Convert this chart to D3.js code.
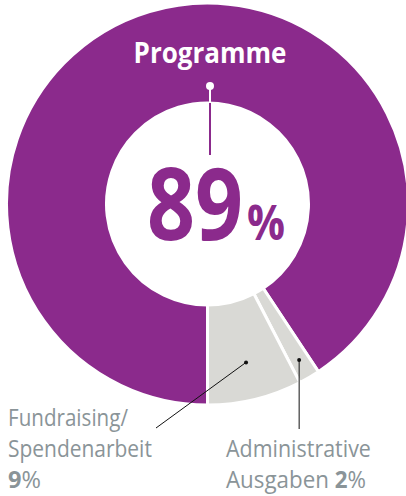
<!DOCTYPE html>
<meta charset='utf-8'>
<script src='https://d3js.org/d3.v7.min.js'></script>
<style>
  body { margin: 0; background: #fff; }
  text { font-family: 'Open Sans', 'Noto Sans', sans-serif; }
</style>
<body>
<script>
var width = 406,
    height = 496;

// slices in draw order (clockwise from 6 o'clock)
var categories = ['Programme', 'Administrative Ausgaben', 'Fundraising/Spendenarbeit'];
var labelPct = [89, 2, 9];
// share of the ring as drawn in the picture (not to scale with labels)
var arcShare = [90.7, 1.7, 7.6];
var colors = ['#8b2a8c', '#d9d9d5', '#d9d9d5'];

var cx = 207.5, cy = 204, outerR = 201, innerR = 101;

var svg = d3.select('body').append('svg').attr('width', width).attr('height', height);

var pie = d3.pie().sort(null).value(function(d) { return d; })
    .startAngle(Math.PI).endAngle(3 * Math.PI);
var arc = d3.arc().innerRadius(innerR).outerRadius(outerR);
var arcs = pie(arcShare);

var g = svg.append('g').attr('transform', 'translate(' + cx + ',' + cy + ')');

g.selectAll('path.slice').data(arcs).enter().append('path')
    .attr('class', 'slice')
    .attr('d', arc)
    .attr('fill', function(d, i) { return colors[i]; })
    .attr('stroke', '#fff')
    .attr('stroke-width', 3)
    .attr('stroke-linejoin', 'miter');

// squeeze a text node horizontally to a given width
function fit(sel, x, y, w, anchor) {
  var len = sel.node().getComputedTextLength();
  var k = w / len;
  sel.attr('x', 0).attr('y', 0)
    .attr('transform', 'translate(' + x + ',' + y + ') scale(' + k + ',1)')
    .attr('text-anchor', anchor || 'start');
  return sel;
}

// Programme label + pointer
fit(svg.append('text').text(categories[0])
    .attr('fill', '#fff').attr('font-weight', 700).attr('font-size', 28), 210, 63, 153, 'middle');

svg.append('line').attr('x1', 210).attr('x2', 210).attr('y1', 86).attr('y2', cy - innerR)
    .attr('stroke', '#fff').attr('stroke-width', 2);
svg.append('line').attr('x1', 210).attr('x2', 210).attr('y1', cy - innerR).attr('y2', 155)
    .attr('stroke', colors[0]).attr('stroke-width', 2);
svg.append('circle').attr('cx', 210).attr('cy', 86).attr('r', 4).attr('fill', '#fff');

// big percentage
fit(svg.append('text').text(labelPct[0])
    .attr('fill', colors[0]).attr('font-weight', 700).attr('font-size', 100), 147, 240, 96);
fit(svg.append('text').text('%')
    .attr('fill', colors[0]).attr('font-weight', 700).attr('font-size', 48), 247, 240, 38);

// leader lines for the small slices
var leaders = [
  {i: 2, r: 0.62, x2: 156, y2: 428, vertical: false},
  {i: 1, r: 0.8, x2: null, y2: 429, vertical: true}
];
leaders.forEach(function(l) {
  var a = arcs[l.i];
  var mid = (a.startAngle + a.endAngle) / 2;
  var rr = innerR + (outerR - innerR) * l.r;
  var px = cx + rr * Math.sin(mid), py = cy - rr * Math.cos(mid);
  var x2 = l.vertical ? px : l.x2;
  svg.append('line').attr('x1', px).attr('y1', py).attr('x2', x2).attr('y2', l.y2)
    .attr('stroke', '#111').attr('stroke-width', 1);
  svg.append('circle').attr('cx', px).attr('cy', py).attr('r', 2).attr('fill', '#111');
});

var grey = '#8a9498';
var fs = 24;

function label(lines, x, y0, lh, widths) {
  lines.forEach(function(ln, j) {
    var t = svg.append('text').attr('fill', grey).attr('font-size', fs);
    ln.forEach(function(part) {
      t.append('tspan').text(part[0]).attr('font-weight', part[1] ? 700 : 400);
    });
    fit(t, x, y0 + j * lh, widths[j]);
  });
}

label([[['Fundraising/', 0]], [['Spendenarbeit', 0]], [[String(labelPct[2]), 1], ['%', 0]]],
  8, 426, 31, [120, 144, 33]);
label([[['Administrative', 0]], [['Ausgaben ', 0], [String(labelPct[1]), 1], ['%', 0]]],
  226, 457, 31, [145, 140]);
</script>
